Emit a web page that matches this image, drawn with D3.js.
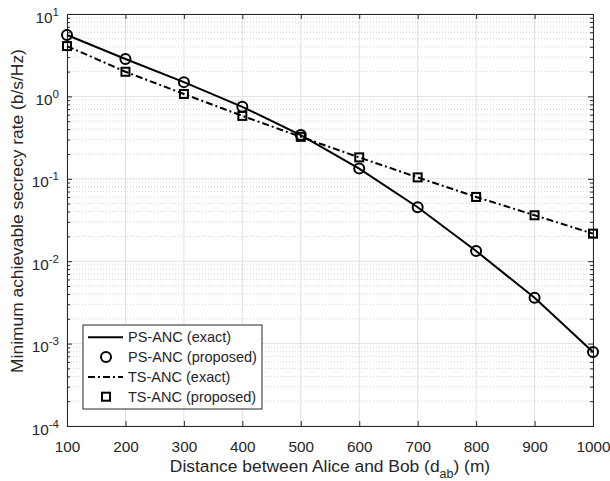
<!DOCTYPE html>
<html>
<head>
<meta charset="utf-8">
<script src="https://cdn.jsdelivr.net/npm/d3@7"></script>
<style>
  body { margin: 0; background: #fff; }
  text { font-family: "Liberation Sans", Arial, sans-serif; fill: #262626; }
</style>
</head>
<body>
<script>
// distance values (m)
var distances = [100, 200, 300, 400, 500, 600, 700, 800, 900, 1000];
// PS-ANC minimum achievable secrecy rate
var psRate = [5.56, 2.84, 1.49, 0.748, 0.339, 0.133, 0.0452, 0.0133, 0.0036, 0.00079];
// TS-ANC minimum achievable secrecy rate
var tsRate = [4.08, 1.99, 1.07, 0.58, 0.323, 0.182, 0.104, 0.0602, 0.0361, 0.0216];
var yTickExps = [-4, -3, -2, -1, 0, 1];
var legendLabels = ["PS-ANC (exact)", "PS-ANC (proposed)", "TS-ANC (exact)", "TS-ANC (proposed)"];

var width = 610, height = 481;
var margin = { left: 67, right: 17, top: 14, bottom: 55 };
var plotW = width - margin.left - margin.right,
    plotH = height - margin.top - margin.bottom;

var svg = d3.select("body").append("svg")
    .attr("width", width)
    .attr("height", height);

var x = d3.scaleLinear().domain([100, 1000]).range([0, plotW]);
var y = d3.scaleLog().domain([1e-4, 10]).range([plotH, 0]);

var g = svg.append("g")
    .attr("transform", "translate(" + margin.left + "," + margin.top + ")");

// minor grid (dotted)
var minorVals = [];
for (var e = -4; e < 1; e++) {
    for (var m = 2; m <= 9; m++) minorVals.push(m * Math.pow(10, e));
}
g.selectAll(".minor").data(minorVals).enter().append("line")
    .attr("x1", 0).attr("x2", plotW)
    .attr("y1", function (d) { return y(d); })
    .attr("y2", function (d) { return y(d); })
    .attr("stroke", "#c8c8c8")
    .attr("stroke-width", 0.8)
    .attr("stroke-dasharray", "1,2");

// major grid
var majorY = yTickExps.map(function (e) { return Math.pow(10, e); });
g.selectAll(".majy").data(majorY).enter().append("line")
    .attr("x1", 0).attr("x2", plotW)
    .attr("y1", function (d) { return y(d); })
    .attr("y2", function (d) { return y(d); })
    .attr("stroke", "#e0e0e0").attr("stroke-width", 1);
g.selectAll(".majx").data(distances).enter().append("line")
    .attr("y1", 0).attr("y2", plotH)
    .attr("x1", function (d) { return x(d); })
    .attr("x2", function (d) { return x(d); })
    .attr("stroke", "#e0e0e0").attr("stroke-width", 1);

// axes (ticks inward, box)
var xAxis = g.append("g").attr("transform", "translate(0," + plotH + ")")
    .call(d3.axisBottom(x).tickValues(distances).tickSize(-5).tickPadding(15).tickFormat(d3.format("d")));
g.append("g")
    .call(d3.axisTop(x).tickValues(distances).tickSize(-5).tickFormat(""));
g.append("g")
    .call(d3.axisLeft(y).tickValues(majorY).tickSize(-5).tickFormat(""));
g.append("g").attr("transform", "translate(" + plotW + ",0)")
    .call(d3.axisRight(y).tickValues(majorY).tickSize(-5).tickFormat(""));
g.append("g").call(d3.axisLeft(y).tickValues(minorVals).tickSize(-3).tickFormat(""));
g.append("g").attr("transform", "translate(" + plotW + ",0)")
    .call(d3.axisRight(y).tickValues(minorVals).tickSize(-3).tickFormat(""));

g.selectAll(".domain").attr("stroke", "#262626").attr("stroke-width", 1);
g.selectAll(".tick line").attr("stroke", "#262626");
xAxis.selectAll("text").style("font-size", "15.3px").attr("fill", "#262626")
    .style("font-family", "'Liberation Sans', Arial, sans-serif");

// y tick labels 10^e
yTickExps.forEach(function (e) {
    var t = g.append("text")
        .attr("x", -8)
        .attr("y", y(Math.pow(10, e)) + 8.5)
        .attr("text-anchor", "end")
        .style("font-size", "15.3px");
    t.append("tspan").text("10");
    t.append("tspan").attr("dy", -7).style("font-size", "11.5px").text(e);
});

// lines
var line = d3.line()
    .x(function (d, i) { return x(distances[i]); })
    .y(function (d) { return y(d); });

g.append("path").datum(psRate)
    .attr("d", line).attr("fill", "none")
    .attr("stroke", "#000").attr("stroke-width", 2);
g.append("path").datum(tsRate)
    .attr("d", line).attr("fill", "none")
    .attr("stroke", "#000").attr("stroke-width", 2)
    .attr("stroke-dasharray", "7,3,2,3");

// markers
g.selectAll(".circ").data(psRate).enter().append("circle")
    .attr("cx", function (d, i) { return x(distances[i]); })
    .attr("cy", function (d) { return y(d); })
    .attr("r", 5).attr("fill", "none")
    .attr("stroke", "#000").attr("stroke-width", 2);
g.selectAll(".sq").data(tsRate).enter().append("rect")
    .attr("x", function (d, i) { return x(distances[i]) - 4; })
    .attr("y", function (d) { return y(d) - 4; })
    .attr("width", 8).attr("height", 8).attr("fill", "none")
    .attr("stroke", "#000").attr("stroke-width", 2);

// legend
var lg = svg.append("g").attr("transform", "translate(83,325)");
lg.append("rect").attr("width", 179).attr("height", 84)
    .attr("fill", "#fff").attr("stroke", "#262626").attr("stroke-width", 1);
legendLabels.forEach(function (lab, i) {
    var cy = 12.3 + i * 19.8;
    if (i == 0 || i == 2) {
        lg.append("line").attr("x1", 5).attr("x2", 40)
            .attr("y1", cy).attr("y2", cy)
            .attr("stroke", "#000").attr("stroke-width", 2)
            .attr("stroke-dasharray", i == 2 ? "7,3,2,3" : null);
    } else if (i == 1) {
        lg.append("circle").attr("cx", 23).attr("cy", cy).attr("r", 5)
            .attr("fill", "none").attr("stroke", "#000").attr("stroke-width", 2);
    } else {
        lg.append("rect").attr("x", 19).attr("y", cy - 4).attr("width", 8).attr("height", 8)
            .attr("fill", "none").attr("stroke", "#000").attr("stroke-width", 2);
    }
    lg.append("text").attr("x", 45).attr("y", cy + 5)
        .style("font-size", "14.5px").text(lab);
});

// axis labels
var xl = svg.append("text")
    .attr("x", margin.left + plotW / 2).attr("y", 472)
    .attr("text-anchor", "middle").style("font-size", "17.4px");
xl.append("tspan").text("Distance between Alice and Bob (d");
xl.append("tspan").attr("dy", 5.5).style("font-size", "12.5px").text("ab");
xl.append("tspan").attr("dy", -5.5).text(") (m)");

svg.append("text")
    .attr("transform", "translate(23,211) rotate(-90)")
    .attr("text-anchor", "middle").style("font-size", "17.4px")
    .text("Minimum achievable secrecy rate (b/s/Hz)");
</script>
</body>
</html>
